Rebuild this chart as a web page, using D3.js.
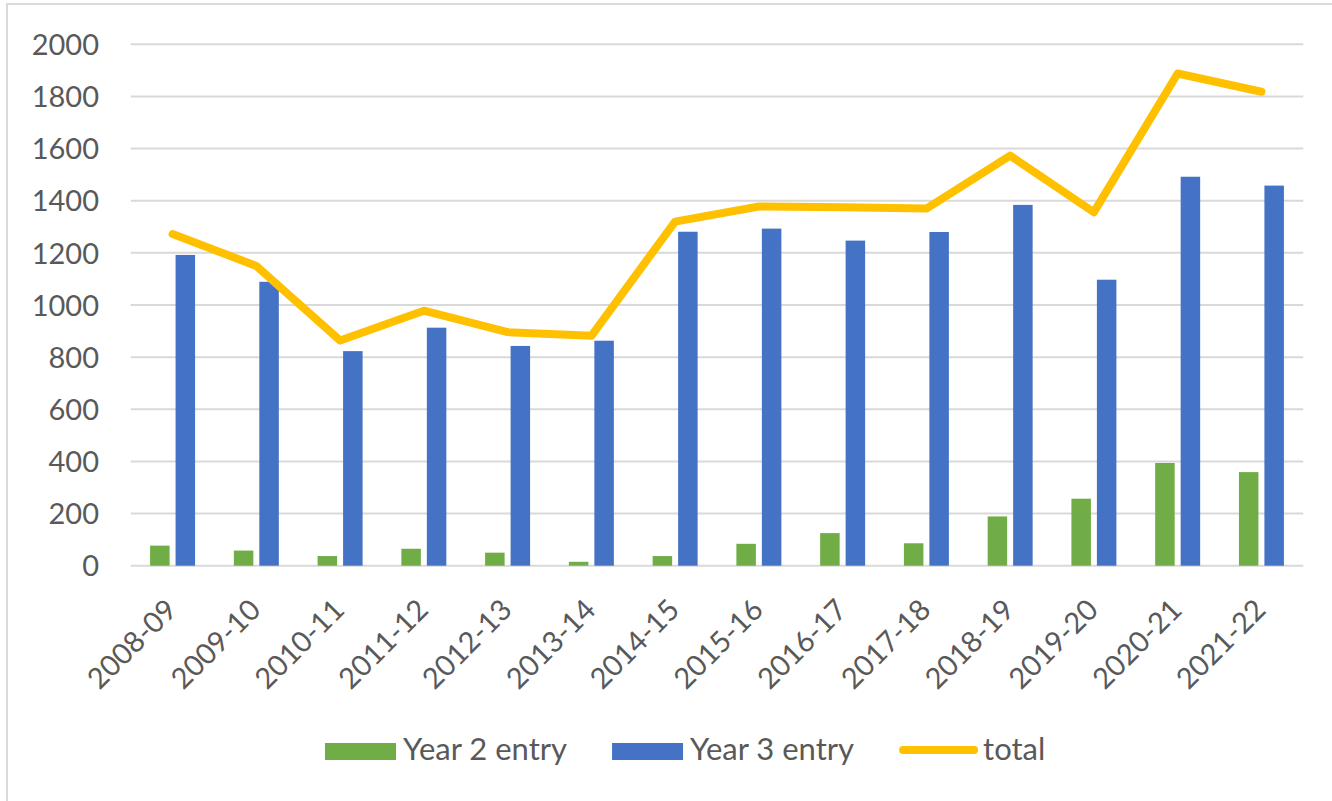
<!DOCTYPE html>
<html>
<head>
<meta charset="utf-8">
<script src="https://cdn.jsdelivr.net/npm/d3@7"></script>
<style>
  html, body { margin: 0; padding: 0; background: #fff; }
  svg { display: block; }
  text { font-family: Lato, "Open Sans", sans-serif; fill: #595959; }
</style>
</head>
<body>
<svg id="chart" width="1332" height="801"></svg>
<script>
const categories = ["2008-09","2009-10","2010-11","2011-12","2012-13","2013-14","2014-15","2015-16","2016-17","2017-18","2018-19","2019-20","2020-21","2021-22"];
const year2Entry = [77, 58, 37, 65, 50, 15, 37, 84, 125, 86, 189, 257, 394, 359];
const year3Entry = [1192, 1089, 823, 913, 843, 863, 1281, 1293, 1247, 1280, 1384, 1097, 1492, 1458];
const totalValues = [1272, 1150, 864, 978, 896, 882, 1320, 1378, 1375, 1370, 1573, 1356, 1888, 1818];
const yTicks = [0, 200, 400, 600, 800, 1000, 1200, 1400, 1600, 1800, 2000];
const seriesNames = ["Year 2 entry", "Year 3 entry", "total"];

const colors = { "Year 2 entry": "#70AD47", "Year 3 entry": "#4472C4", "total": "#FFC000" };
const FONT = 29;
const LEGEND_FONT = 31;

const svg = d3.select("#chart");
const plot = { left: 130.7, right: 1303.3, top: 44.3, bottom: 565.7 };

// outer border
svg.append("rect")
  .attr("x", 7).attr("y", 4).attr("width", 1400).attr("height", 1000)
  .attr("fill", "none").attr("stroke", "#d9d9d9").attr("stroke-width", 2);

const y = d3.scaleLinear().domain([0, 2000]).range([plot.bottom, plot.top]);
const x0 = d3.scaleBand().domain(categories).range([plot.left, plot.right])
  .paddingInner(0.463).paddingOuter(0.2315);
const x1 = d3.scaleBand().domain(["Year 2 entry", "Year 3 entry"]).range([0, x0.bandwidth()])
  .paddingInner(0.235);

// gridlines
svg.append("g").selectAll("line").data(yTicks).join("line")
  .attr("x1", plot.left).attr("x2", plot.right)
  .attr("y1", d => y(d)).attr("y2", d => y(d))
  .attr("stroke", "#d9d9d9").attr("stroke-width", 2);

// y axis labels
const yAxis = d3.axisLeft(y).tickValues(yTicks).tickSize(0).tickPadding(0).tickFormat(d3.format("d"));
const yg = svg.append("g").attr("transform", `translate(${99},0)`).call(yAxis);
yg.select(".domain").remove();
yg.selectAll("text").attr("font-size", FONT).attr("fill", "#595959")
  .style("font-family", 'Lato, "Open Sans", sans-serif').attr("dy", "0.35em");

// bars
const rows = categories.map((c, i) => ({ cat: c, vals: [
  { key: "Year 2 entry", v: year2Entry[i] },
  { key: "Year 3 entry", v: year3Entry[i] }] }));
const groups = svg.append("g").selectAll("g").data(rows).join("g")
  .attr("transform", d => `translate(${x0(d.cat)},0)`);
groups.selectAll("rect").data(d => d.vals).join("rect")
  .attr("x", d => x1(d.key)).attr("width", x1.bandwidth())
  .attr("y", d => y(d.v)).attr("height", d => y(0) - y(d.v))
  .attr("fill", d => colors[d.key]);

// line
const cx = c => x0(c) + x0.bandwidth() / 2;
const line = d3.line().x((d, i) => cx(categories[i])).y(d => y(d));
svg.append("path").datum(totalValues)
  .attr("d", line).attr("fill", "none")
  .attr("stroke", colors.total).attr("stroke-width", 8)
  .attr("stroke-linejoin", "round").attr("stroke-linecap", "round");

// x labels
const xAxis = d3.axisBottom(x0).tickSize(0).tickPadding(0);
const xg = svg.append("g").attr("transform", `translate(0,${plot.bottom})`).call(xAxis);
xg.select(".domain").remove();
xg.selectAll(".tick text")
  .attr("font-size", FONT).attr("fill", "#595959")
  .style("font-family", 'Lato, "Open Sans", sans-serif')
  .attr("text-anchor", "end").attr("dy", 0).attr("y", 0)
  .attr("transform", "translate(6,46) rotate(-45)");

// legend
const legend = svg.append("g").attr("transform", "translate(325,0)");
let lx = 0;
seriesNames.forEach((name, i) => {
  const g = legend.append("g").attr("transform", `translate(${lx},0)`);
  if (name === "total") {
    g.append("line").attr("x1", 4).attr("x2", 75).attr("y1", 750).attr("y2", 750)
      .attr("stroke", colors[name]).attr("stroke-width", 8).attr("stroke-linecap", "round");
  } else {
    g.append("rect").attr("x", 0).attr("y", 743).attr("width", 71).attr("height", 17)
      .attr("fill", colors[name]);
  }
  const t = g.append("text").attr("x", name === "total" ? 84 : 78).attr("y", 760)
    .attr("font-size", LEGEND_FONT).text(name);
  lx += (name === "total" ? 84 : 78) + t.node().getComputedTextLength() + 45;
});
</script>
</body>
</html>
